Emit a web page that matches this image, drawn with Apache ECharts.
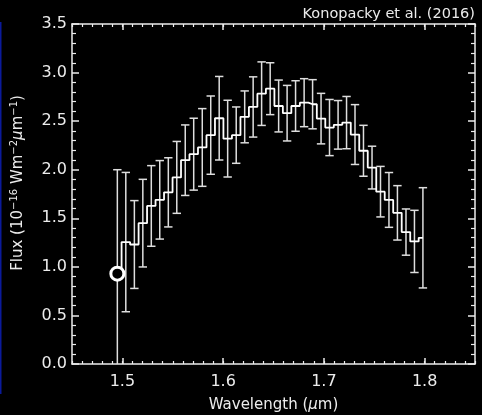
<!DOCTYPE html>
<html>
<head>
<meta charset="utf-8">
<script src="https://cdn.jsdelivr.net/npm/echarts@6/dist/echarts.min.js"></script>
<style>
  html, body { margin: 0; padding: 0; background: #000; }
  #chart { width: 482px; height: 415px; }
</style>
</head>
<body>
<div id="chart"></div>
<script>
// Spectral channel centres (micron)
const wavelength = [
  1.4950, 1.5034, 1.5119, 1.5203, 1.5287, 1.5371, 1.5456, 1.5540, 1.5624, 1.5708,
  1.5793, 1.5877, 1.5961, 1.6045, 1.6130, 1.6214, 1.6298, 1.6382, 1.6467, 1.6551,
  1.6635, 1.6719, 1.6804, 1.6888, 1.6972, 1.7056, 1.7141, 1.7225, 1.7309, 1.7393,
  1.7478, 1.7562, 1.7646, 1.7730, 1.7815, 1.7899, 1.7983
];
// Flux in units of 1e-16 W m^-2 um^-1
const flux = [
  0.930, 1.255, 1.230, 1.450, 1.627, 1.690, 1.767, 1.921, 2.098, 2.160,
  2.229, 2.356, 2.530, 2.320, 2.356, 2.544, 2.646, 2.783, 2.834, 2.656,
  2.582, 2.656, 2.690, 2.674, 2.526, 2.434, 2.462, 2.485, 2.362, 2.195,
  2.022, 1.774, 1.689, 1.556, 1.358, 1.262, 1.299
];
// 1-sigma uncertainty on each channel
const fluxErr = [
  1.070, 0.717, 0.452, 0.451, 0.415, 0.404, 0.356, 0.370, 0.363, 0.370,
  0.400, 0.403, 0.430, 0.395, 0.290, 0.267, 0.310, 0.327, 0.267, 0.267,
  0.286, 0.260, 0.247, 0.253, 0.260, 0.289, 0.250, 0.269, 0.308, 0.262,
  0.220, 0.260, 0.282, 0.280, 0.238, 0.320, 0.516
];
// Highlighted first channel
const markedPoint = [1.4950, 0.930];

const xTickLabels = [1.5, 1.6, 1.7, 1.8];
const yTickLabels = [0.0, 0.5, 1.0, 1.5, 2.0, 2.5, 3.0, 3.5];

const FG = '#ececec';
const FONT = 'DejaVu Sans';

const stepData = wavelength.map((w, i) => [w, flux[i]]);
const barData = wavelength.map((w, i) => [w, flux[i] - fluxErr[i], flux[i] + fluxErr[i]]);

const xRange = { min: 1.45, max: 1.85 };
const yRange = { min: yTickLabels[0], max: yTickLabels[yTickLabels.length - 1] };

function majorX(position, showLabel) {
  return {
    type: 'value', position, gridIndex: 0, ...xRange,
    axisLine: { show: true, onZero: false, lineStyle: { color: FG, width: 1.5 } },
    axisTick: { show: true, inside: true, length: 6, customValues: xTickLabels,
                lineStyle: { color: FG, width: 1.5 } },
    axisLabel: { show: showLabel, customValues: xTickLabels, margin: 10,
                 formatter: v => v.toFixed(1), color: FG, fontFamily: FONT, fontSize: 16 },
    splitLine: { show: false }
  };
}
function minorX(position) {
  return {
    type: 'value', position, gridIndex: 0, ...xRange, interval: 0.01,
    axisLine: { show: false, onZero: false },
    axisTick: { show: true, inside: true, length: 3, lineStyle: { color: FG, width: 1.2 } },
    axisLabel: { show: false },
    splitLine: { show: false }
  };
}
function yAx(position, showLabel) {
  return {
    type: 'value', position, gridIndex: 0, ...yRange, interval: 0.5,
    axisLine: { show: true, onZero: false, lineStyle: { color: FG, width: 1.5 } },
    axisTick: { show: true, inside: true, length: 7, lineStyle: { color: FG, width: 1.5 } },
    minorTick: { show: true, splitNumber: 5, length: 4, lineStyle: { color: FG, width: 1.2 } },
    axisLabel: { show: showLabel, margin: 5, formatter: v => v.toFixed(1),
                 color: FG, fontFamily: FONT, fontSize: 16 },
    splitLine: { show: false }, minorSplitLine: { show: false }
  };
}

const baseText = { color: FG, fontFamily: FONT, fontSize: 15, lineHeight: 18 };
const supText = { color: FG, fontFamily: FONT, fontSize: 10, lineHeight: 10, verticalAlign: 'top' };

const xBottom = majorX('bottom', true);
xBottom.name = '{n|Wavelength (}{i|μ}{n|m)}';
xBottom.nameLocation = 'middle';
xBottom.nameGap = 32;
xBottom.nameTextStyle = {
  ...baseText,
  rich: { n: baseText, i: { ...baseText, fontStyle: 'italic' } }
};

const yLeft = yAx('left', true);
yLeft.name = '{n|Flux (10}{s|−16}{n| Wm}{s|−2}{i|μ}{n|m}{s|−1}{n|)}';
yLeft.nameLocation = 'middle';
yLeft.nameGap = 45;
yLeft.nameTextStyle = {
  ...baseText,
  padding: [0, 0, 0, 22],
  rich: { n: baseText, s: supText, i: { ...baseText, fontStyle: 'italic' } }
};

const chart = echarts.init(document.getElementById('chart'), null, { renderer: 'canvas' });
chart.setOption({
  backgroundColor: '#000',
  animation: false,
  title: {
    text: 'Konopacky et al. (2016)',
    right: 7, top: 7, padding: 0,
    textStyle: { color: FG, fontFamily: FONT, fontSize: 14.5, fontWeight: 'normal' }
  },
  grid: { left: 72, right: 7, top: 24, bottom: 51, outerBoundsMode: 'none', containLabel: false },
  xAxis: [xBottom, minorX('bottom'), majorX('top', false), minorX('top')],
  yAxis: [yLeft, yAx('right', false)],
  graphic: [{
    type: 'rect', left: 0, top: 22,
    shape: { width: 1.5, height: 372 },
    style: { fill: '#0b1a9a' }
  }],
  series: [
    {
      type: 'custom',
      xAxisIndex: 0, yAxisIndex: 0,
      clip: true,
      data: barData,
      encode: { x: 0, y: [1, 2] },
      renderItem: function (params, api) {
        const x = api.value(0);
        const lo = api.coord([x, api.value(1)]);
        const hi = api.coord([x, api.value(2)]);
        const hw = 4.2;
        const style = { stroke: '#dedede', lineWidth: 1.5 };
        return {
          type: 'group',
          children: [
            { type: 'line', shape: { x1: hi[0], y1: hi[1], x2: lo[0], y2: lo[1] }, style },
            { type: 'line', shape: { x1: hi[0] - hw, y1: hi[1], x2: hi[0] + hw, y2: hi[1] }, style },
            { type: 'line', shape: { x1: lo[0] - hw, y1: lo[1], x2: lo[0] + hw, y2: lo[1] }, style }
          ]
        };
      },
      z: 2
    },
    {
      type: 'line',
      xAxisIndex: 0, yAxisIndex: 0,
      data: stepData,
      step: 'middle',
      showSymbol: false,
      lineStyle: { color: '#ffffff', width: 1.8 },
      z: 3
    },
    {
      type: 'scatter',
      xAxisIndex: 0, yAxisIndex: 0,
      data: [markedPoint],
      symbol: 'circle',
      symbolSize: 13,
      itemStyle: { color: '#000', borderColor: '#ffffff', borderWidth: 3, opacity: 1 },
      z: 4
    }
  ]
});
</script>
</body>
</html>
